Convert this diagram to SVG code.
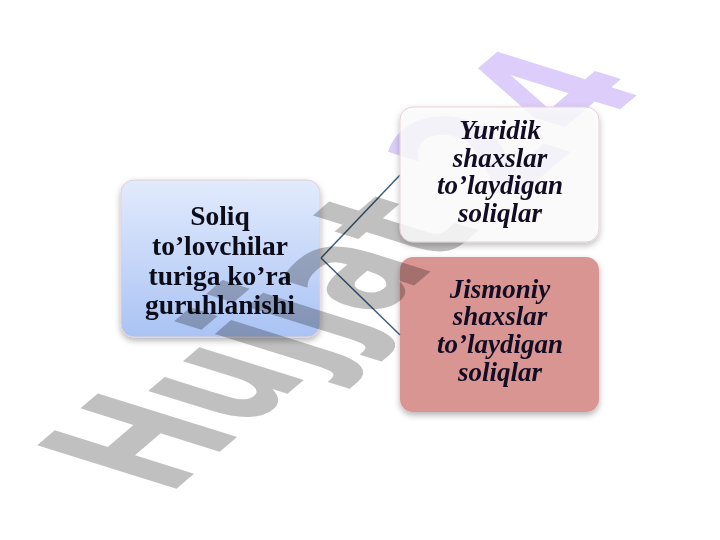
<svg xmlns="http://www.w3.org/2000/svg" width="720" height="540" viewBox="0 0 720 540">
<style>
.t1{font-family:"Liberation Serif","Times New Roman",serif;font-weight:bold;font-size:27.5px;fill:#0d0d1a;text-anchor:middle}
.t2{font-family:"Liberation Serif","Times New Roman",serif;font-weight:bold;font-style:italic;font-size:27px;fill:#120c24;text-anchor:middle}
.wm{font-family:"DejaVu Sans",sans-serif;font-weight:bold;font-size:122px;mix-blend-mode:multiply}
.conn{stroke:#3f5e7c;stroke-width:1.5;fill:none}
</style>
<defs>
<linearGradient id="gBlue" x1="0" y1="0" x2="0" y2="1">
<stop offset="0" stop-color="#e2ebfd"/>
<stop offset="1" stop-color="#aac3f4"/>
</linearGradient>
<filter id="sh" x="-10%" y="-10%" width="120%" height="130%">
<feDropShadow dx="0" dy="3" stdDeviation="3" flood-color="#000" flood-opacity="0.3"/>
</filter>
</defs>
<rect width="720" height="540" fill="#ffffff"/>
<g id="node-soliq">
<rect x="121" y="180" width="199" height="157" rx="13" fill="url(#gBlue)" stroke="#e6cfd6" stroke-width="1" filter="url(#sh)"/>
<text class="t1" x="220" y="225">Soliq</text>
<text class="t1" x="220" y="255">to’lovchilar</text>
<text class="t1" x="220" y="285">turiga ko’ra</text>
<text class="t1" x="220" y="314">guruhlanishi</text>
</g>
<g id="node-jismoniy">
<rect x="400" y="257" width="199" height="155" rx="13" fill="#d99592" filter="url(#sh)"/>
<text class="t2" x="500" y="298">Jismoniy</text>
<text class="t2" x="500" y="325">shaxslar</text>
<text class="t2" x="500" y="353">to’laydigan</text>
<text class="t2" x="500" y="381">soliqlar</text>
</g>
<g id="connectors">
<line class="conn" x1="321" y1="258" x2="400" y2="175"/>
<line class="conn" x1="321" y1="258" x2="400" y2="335"/>
</g>
<text class="wm" transform="matrix(0.76,-0.65,1.565,0.49,168,496)"><tspan fill="#c0c0c0">Hujjat</tspan><tspan fill="#dccdfb" dx="42">2</tspan><tspan fill="#dccdfb" dx="10">4</tspan></text>
<g id="node-yuridik">
<rect x="400" y="107" width="199" height="135" rx="13" fill="#ffffff" fill-opacity="0.8" stroke="#e6cfd6" stroke-width="1" filter="url(#sh)"/>
<text class="t2" x="500" y="139">Yuridik</text>
<text class="t2" x="500" y="167">shaxslar</text>
<text class="t2" x="500" y="194">to’laydigan</text>
<text class="t2" x="500" y="222">soliqlar</text>
</g>
</svg>
